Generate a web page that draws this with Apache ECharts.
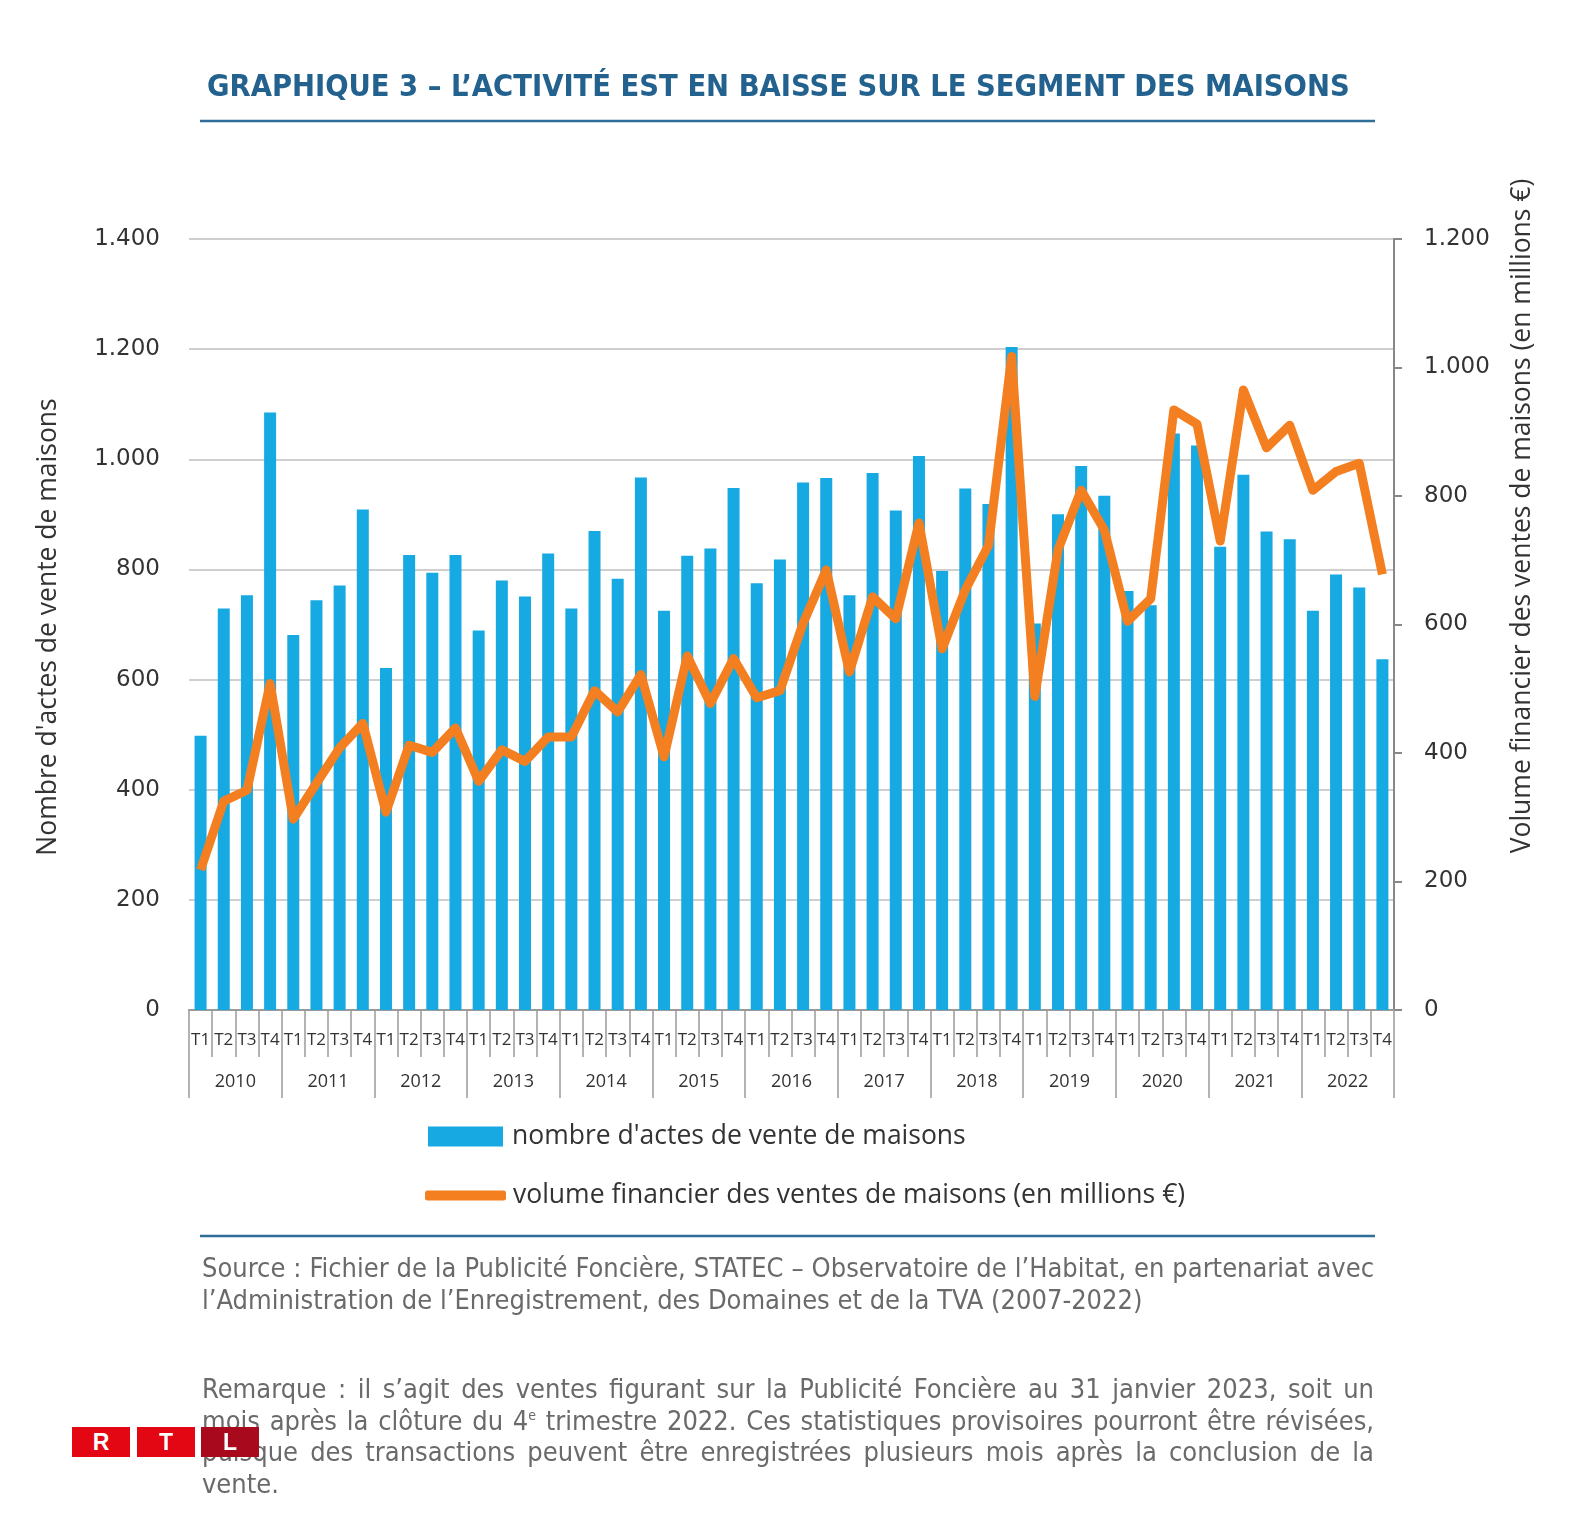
<!DOCTYPE html>
<html>
<head>
<meta charset="utf-8">
<script src="https://cdn.jsdelivr.net/npm/echarts@6/dist/echarts.min.js"></script>
<style>
html,body{margin:0;padding:0;background:#fff;}
#chart{position:absolute;left:0;top:0;width:1572px;height:1534px;}
.note{position:absolute;left:202px;width:1172px;font-family:"Liberation Sans Narrow","DejaVu Sans Condensed",sans-serif;font-stretch:condensed;color:#6a6a6a;font-size:27px;line-height:32px;}
.note div{white-space:nowrap;}
.note .j{text-align:justify;text-align-last:justify;white-space:normal;}
#logo{position:absolute;left:72px;top:1427px;height:30px;z-index:5;}
#logo span{position:absolute;top:0;width:58px;height:30px;color:#fff;font-family:"Liberation Sans","DejaVu Sans",sans-serif;font-weight:bold;font-size:23px;line-height:30px;text-align:center;}
</style>
</head>
<body>
<div id="chart"></div>
<div class="note" style="top:1252px;">
<div class="j">Source : Fichier de la Publicité Foncière, STATEC – Observatoire de l’Habitat, en partenariat avec</div>
<div>l’Administration de l’Enregistrement, des Domaines et de la TVA (2007-2022)</div>
</div>
<div class="note" style="top:1373px;line-height:31.5px;">
<div class="j">Remarque : il s’agit des ventes figurant sur la Publicité Foncière au 31 janvier 2023, soit un</div>
<div class="j">mois après la clôture du 4<sup style="font-size:14px;line-height:0">e</sup> trimestre 2022. Ces statistiques provisoires pourront être révisées,</div>
<div class="j">puisque des transactions peuvent être enregistrées plusieurs mois après la conclusion de la</div>
<div>vente.</div>
</div>
<div id="logo">
<span style="left:0;background:#e30613;">R</span>
<span style="left:65px;background:#e30613;">T</span>
<span style="left:129px;background:#a8091c;">L</span>
</div>
<script>
const years = ['2010','2011','2012','2013','2014','2015','2016','2017','2018','2019','2020','2021','2022'];
const quarterNames = ['T1','T2','T3','T4'];
const quarterLabels = [];
years.forEach(function(){ quarterNames.forEach(function(q){ quarterLabels.push(q); }); });

const nombreActes = [
  498, 729, 753, 1085,
  681, 744, 771, 909,
  621, 826, 794, 826,
  689, 780, 751, 829,
  729, 870, 783, 967,
  725, 825, 838, 948,
  775, 818, 958, 966,
  753, 975, 907, 1006,
  797, 947, 919, 1204,
  702, 900, 988, 934,
  761, 735, 1047, 1025,
  841, 972, 869, 855,
  725, 791, 767, 637
];
const volumeFinancier = [
  218, 325, 342, 508,
  297, 353, 408, 446,
  308, 412, 401, 439,
  356, 405, 387, 425,
  425, 497, 464, 522,
  394, 551, 477, 547,
  486, 497, 602, 685,
  526, 643, 609, 758,
  562, 654, 723, 1017,
  488, 716, 809, 747,
  605, 640, 934, 912,
  730, 965, 875, 910,
  809, 838, 851, 678
];
const leftTicks = {min:0, max:1400, interval:200};
const rightTicks = {min:0, max:1200, interval:200};

const nameBars = "nombre d'actes de vente de maisons";
const nameLine = "volume financier des ventes de maisons (en millions €)";

function fmt(v){ return String(v).replace(/\B(?=(\d{3})+(?!\d))/g, '.'); }

const chart = echarts.init(document.getElementById('chart'), null, {renderer:'canvas'});
const uiFont = '"Open Sans", "DejaVu Sans", sans-serif';
const orange = '#f47f20';
const blue = '#17a9e1';
chart.setOption({
  animation:false,
  backgroundColor:'transparent',
  title:{
    text:'GRAPHIQUE 3 – L’ACTIVITÉ EST EN BAISSE SUR LE SEGMENT DES MAISONS',
    left:202, top:68,
    textStyle:{fontFamily:'"Liberation Sans Narrow","DejaVu Sans Condensed",sans-serif', fontWeight:'bold', fontSize:30.5, color:'#23628e'}
  },
  grid:{left:189, right:178, top:239, bottom:524, containLabel:false},
  legend:[
    {
      orient:'vertical', left:423, top:1118, itemWidth:75, itemHeight:20,
      icon:'rect',
      textStyle:{fontFamily:uiFont, fontSize:26.5, color:'#333', padding:[0,0,0,4]},
      data:[nameBars]
    },
    {
      orient:'vertical', left:420, top:1177, itemWidth:81, itemHeight:10,
      textStyle:{fontFamily:uiFont, fontSize:26.5, color:'#333', padding:[0,0,0,2]},
      data:[{name:nameLine, icon:'roundRect', itemStyle:{color:orange, borderWidth:0}}]
    }
  ],
  xAxis:[
    {
      type:'category', data:quarterLabels, position:'bottom',
      axisLine:{lineStyle:{color:'#9a9a9a', width:2}},
      axisTick:{show:true, interval:0, length:47, lineStyle:{color:'#9a9a9a', width:1.5}},
      axisLabel:{interval:0, margin:22, fontSize:17, color:'#333', fontFamily:uiFont}
    },
    {
      type:'category', data:years, position:'bottom',
      axisLine:{show:false},
      axisTick:{show:true, interval:0, length:88, lineStyle:{color:'#9a9a9a', width:1.5}},
      axisLabel:{interval:0, margin:63, fontSize:18, color:'#333', fontFamily:uiFont}
    }
  ],
  yAxis:[
    {
      type:'value', min:leftTicks.min, max:leftTicks.max, interval:leftTicks.interval, position:'left',
      axisLine:{show:false}, axisTick:{show:false},
      splitLine:{lineStyle:{color:'#cfcfcf', width:2}},
      axisLabel:{margin:29, fontSize:23, color:'#333', fontFamily:'"DejaVu Sans", sans-serif', formatter:fmt}
    },
    {
      type:'value', min:rightTicks.min, max:rightTicks.max, interval:rightTicks.interval, position:'right',
      axisLine:{show:true, lineStyle:{color:'#888', width:2}},
      axisTick:{show:true, length:8, lineStyle:{color:'#888', width:2}},
      splitLine:{show:false},
      axisLabel:{margin:30, fontSize:23, color:'#333', fontFamily:'"DejaVu Sans", sans-serif', formatter:fmt}
    }
  ],
  graphic:[
    {type:'line', shape:{x1:200, y1:121, x2:1375, y2:121}, style:{stroke:'#2f6e98', lineWidth:2.5}},
    {type:'line', shape:{x1:200, y1:1236, x2:1375, y2:1236}, style:{stroke:'#2f6e98', lineWidth:2.5}},
    {type:'text', x:48, y:627, rotation:Math.PI/2,
     style:{text:"Nombre d'actes de vente de maisons", fontFamily:uiFont, fontSize:26.5, fill:'#333', textAlign:'center', textVerticalAlign:'middle'}},
    {type:'text', x:1522, y:516, rotation:Math.PI/2,
     style:{text:'Volume financier des ventes de maisons (en millions €)', fontFamily:uiFont, fontSize:26.5, fill:'#333', textAlign:'center', textVerticalAlign:'middle'}}
  ],
  series:[
    {
      name:nameBars, type:'bar', xAxisIndex:0, yAxisIndex:0, data:nombreActes, barWidth:12,
      itemStyle:{color:blue}
    },
    {
      name:nameLine, type:'line', xAxisIndex:0, yAxisIndex:1, data:volumeFinancier,
      symbol:'none', lineStyle:{color:orange, width:9, join:'round'}, itemStyle:{color:orange}, z:5
    }
  ]
});
</script>
</body>
</html>
